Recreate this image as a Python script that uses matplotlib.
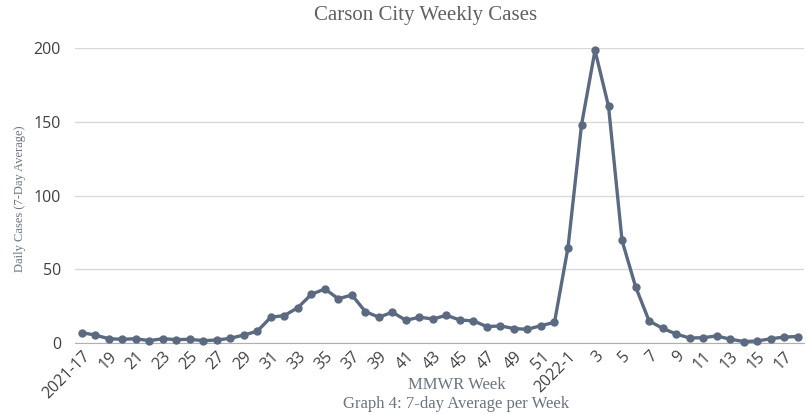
import matplotlib
matplotlib.use("Agg")
import matplotlib.pyplot as plt
import numpy as np

# MMWR weeks 2021-17 .. 2021-52, 2022-1 .. 2022-18
weeks_2021 = list(range(17, 53))
weeks_2022 = list(range(1, 19))
weeks = ["2021-%d" % w for w in weeks_2021] + ["2022-%d" % w for w in weeks_2022]

cases = [7.0, 5.4, 2.9, 2.5, 2.9, 1.6, 2.9, 2.3, 2.5, 1.6,
         2.0, 3.2, 5.4, 8.0, 17.5, 18.6, 24.0, 33.0, 36.7, 30.0,
         32.6, 21.3, 17.5, 20.9, 15.4, 17.5, 16.3, 18.8, 15.6, 15.0,
         11.1, 11.6, 9.8, 9.3, 11.8, 14.0,
         64.8, 148.0, 198.6, 160.7, 69.6, 38.3, 15.0, 10.0, 6.1, 3.4,
         3.6, 4.8, 2.6, 1.0, 1.3, 2.9, 4.0, 4.4]

tick_labels = []
for i, w in enumerate(weeks):
    if i == 0 or w == "2022-1":
        tick_labels.append(w)
    else:
        tick_labels.append(w.split("-")[1])

line_color = "#5b6a80"
serif_color = "#6b7480"

fig = plt.figure(figsize=(8.06, 4.15), dpi=100)
ax = fig.add_axes([0.093, 0.1735, 0.905, 0.71])

x = np.arange(len(weeks))
ax.plot(x, cases, color=line_color, lw=2.4, marker="o", ms=5, clip_on=False, zorder=3)

ax.set_xlim(-0.5, len(weeks) - 0.5)
ax.set_ylim(0, 200)
ax.set_yticks([0, 50, 100, 150, 200])
ax.grid(axis="y", color="#d9d9d9", lw=1)
ax.set_axisbelow(True)
for s in ["top", "right", "left"]:
    ax.spines[s].set_visible(False)
ax.spines["bottom"].set_color("#b0b0b0")
ax.tick_params(length=0)

ax.set_xticks(x[::2])
ax.set_xticklabels(tick_labels[::2], rotation=45, ha="right", rotation_mode="anchor",
                   fontsize=11.5, color="#404040", family="Open Sans")
for lab in ax.get_yticklabels():
    lab.set_fontsize(11.5)
    lab.set_color("#404040")
    lab.set_family("Open Sans")
ax.tick_params(axis="y", pad=10)
ax.tick_params(axis="x", pad=4)

fig.text(0.528, 0.963, "Carson City Weekly Cases", ha="center", va="center",
         family="Liberation Serif", fontsize=15, color="#606060")
fig.text(0.025, 0.52, "Daily Cases (7-Day Average)", ha="center", va="center", rotation=90,
         family="Liberation Serif", fontsize=9, color=serif_color)
fig.text(0.567, 0.072, "MMWR Week", ha="center", va="center",
         family="Liberation Serif", fontsize=12, color=serif_color)
fig.text(0.566, 0.027, "Graph 4: 7-day Average per Week", ha="center", va="center",
         family="Liberation Serif", fontsize=12, color=serif_color)

fig.savefig("out.png", dpi=100)
